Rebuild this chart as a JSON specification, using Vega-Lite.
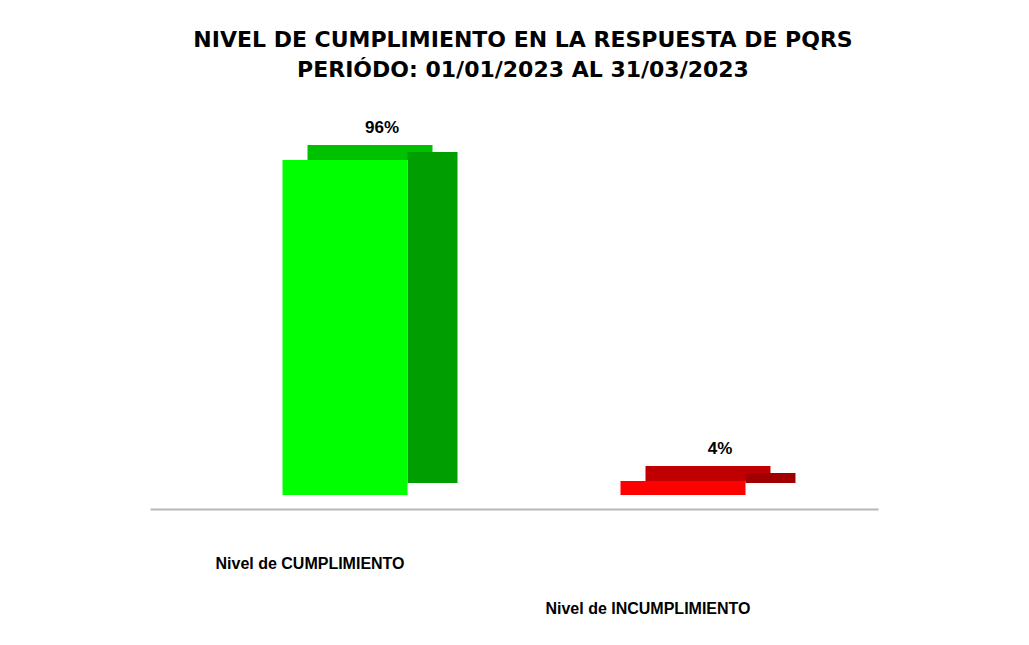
{
  "$schema": "https://vega.github.io/schema/vega-lite/v6.json",
  "width": 728,
  "height": 349,
  "autosize": {"type": "none"},
  "padding": {"left": 150, "top": 146, "right": 151, "bottom": 150},
  "background": "white",
  "config": {"view": {"stroke": null}},
  "title": {
    "text": ["NIVEL DE CUMPLIMIENTO EN LA RESPUESTA DE PQRS", "PERIÓDO: 01/01/2023 AL 31/03/2023"],
    "font": "DejaVu Sans",
    "fontSize": 22,
    "fontWeight": "bold",
    "lineHeight": 30,
    "color": "#000000",
    "anchor": "middle",
    "baseline": "alphabetic",
    "offset": 20,
    "dx": 9
  },
  "data": {
    "values": [
      {"nivel": "Nivel de CUMPLIMIENTO", "pct": 96, "label": "96%"},
      {"nivel": "Nivel de INCUMPLIMIENTO", "pct": 4, "label": "4%"}
    ]
  },
  "encoding": {
    "x": {
      "field": "nivel",
      "type": "nominal",
      "sort": null,
      "scale": {"paddingInner": 0.63, "paddingOuter": 0.392},
      "axis": {
        "title": null,
        "labelAngle": 0,
        "ticks": false,
        "domainColor": "#b8b8b8",
        "domainWidth": 2,
        "offset": 14,
        "labelLimit": 0,
        "labelFont": "Liberation Sans",
        "labelFontWeight": "bold",
        "labelFontSize": 16,
        "labelColor": "#000000",
        "labelOffset": -35,
        "labelPadding": {"condition": {"test": "datum.value == 'Nivel de INCUMPLIMIENTO'", "value": 91}, "value": 46}
      }
    },
    "y": {"field": "pct", "type": "quantitative", "scale": {"domain": [0, 100]}, "axis": null}
  },
  "layer": [
    {
      "mark": {"type": "bar", "width": 125, "xOffset": 25, "yOffset": -15, "y2Offset": 0},
      "encoding": {
        "y2": {"field": "pct"},
        "color": {"condition": {"test": "datum.nivel == 'Nivel de CUMPLIMIENTO'", "value": "#00c000"}, "value": "#c00000"}
      }
    },
    {
      "mark": {"type": "bar", "width": 50, "xOffset": 87.5, "yOffset": -8, "y2Offset": -12},
      "encoding": {
        "y2": {"datum": 0},
        "color": {"condition": {"test": "datum.nivel == 'Nivel de CUMPLIMIENTO'", "value": "#009e00"}, "value": "#a00000"}
      }
    },
    {
      "mark": {"type": "bar", "width": 125},
      "encoding": {
        "color": {"condition": {"test": "datum.nivel == 'Nivel de CUMPLIMIENTO'", "value": "#00ff00"}, "value": "#ff0000"}
      }
    },
    {
      "mark": {"type": "text", "xOffset": 37, "yOffset": -27, "baseline": "alphabetic", "font": "Liberation Sans", "fontWeight": "bold", "fontSize": 17, "color": "#000000"},
      "encoding": {"text": {"field": "label"}}
    }
  ]
}
